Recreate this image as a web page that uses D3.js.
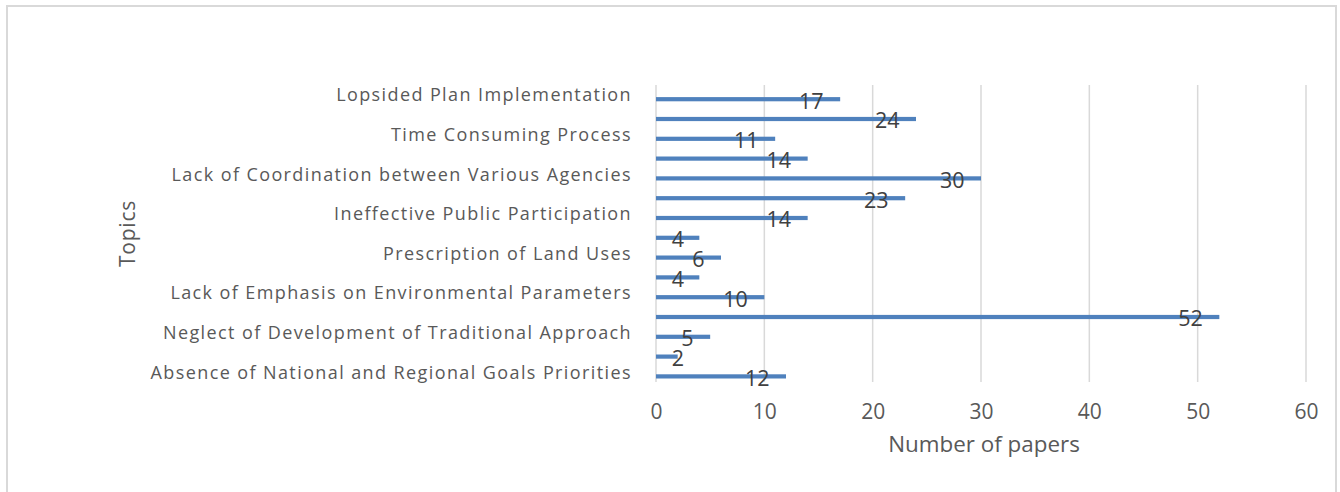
<!DOCTYPE html>
<html>
<head>
<meta charset="utf-8">
<script src="https://cdn.jsdelivr.net/npm/d3@7"></script>
<style>
  html, body { margin: 0; padding: 0; background: #fff; }
  svg { display: block; }
  text { font-family: "Open Sans", "DejaVu Sans", sans-serif; }
</style>
</head>
<body>
<svg id="chart" width="1340" height="492"></svg>
<script>
// Paper counts per topic row, listed top to bottom
const counts = [17, 24, 11, 14, 30, 23, 14, 4, 6, 4, 10, 52, 5, 2, 12];
// The axis names every second row, starting with the first
const tickLabels = [
  "Lopsided Plan Implementation",
  "Time Consuming Process",
  "Lack of Coordination between Various Agencies",
  "Ineffective Public Participation",
  "Prescription of Land Uses",
  "Lack of Emphasis on Environmental Parameters",
  "Neglect of Development of Traditional Approach",
  "Absence of National and Regional Goals Priorities"
];
const xTicks = [0, 10, 20, 30, 40, 50, 60];
const xTitle = "Number of papers";
const yTitle = "Topics";

const svg = d3.select("#chart");
const plot = { left: 656, right: 1306, top: 85, bottom: 382 };
const barColor = "#4F81BD";
const gridColor = "#d9d9d9";

// frame around the chart area
svg.append("rect")
  .attr("x", 7).attr("y", 6)
  .attr("width", 1329).attr("height", 500)
  .attr("fill", "none")
  .attr("stroke", gridColor)
  .attr("stroke-width", 2);

const x = d3.scaleLinear().domain([0, 60]).range([plot.left, plot.right]);
const y = d3.scaleBand().domain(d3.range(counts.length)).range([plot.top, plot.bottom]);

// vertical gridlines
svg.append("g").selectAll("line").data(xTicks).join("line")
  .attr("x1", d => x(d)).attr("x2", d => x(d))
  .attr("y1", plot.top).attr("y2", plot.bottom)
  .attr("stroke", gridColor).attr("stroke-width", 1.5);

// x axis tick labels
const xAxis = d3.axisBottom(x).tickValues(xTicks).tickSize(0).tickPadding(0);
const gx = svg.append("g").attr("transform", `translate(0,${plot.bottom})`).call(xAxis);
gx.select(".domain").remove();
gx.selectAll("text")
  .attr("dy", null)
  .attr("y", 37)
  .attr("fill", "#595959")
  .style("font-size", "21px")
  .style("font-family", "'Open Sans', sans-serif");

// category labels on every second row
const yAxis = d3.axisLeft(y)
  .tickValues(d3.range(0, counts.length, 2))
  .tickFormat(i => tickLabels[i / 2])
  .tickSize(0).tickPadding(0);
const gy = svg.append("g").attr("transform", `translate(632,0)`).call(yAxis);
gy.select(".domain").remove();
gy.selectAll("text")
  .attr("dy", null)
  .attr("y", 6.4)
  .attr("fill", "#595959")
  .style("font-size", "18px")
  .style("letter-spacing", "1.4px")
  .style("font-family", "'Open Sans', sans-serif");

// bars sit slightly below the row centre
const barH = 4.2;
const barShift = 4.3;
const barCenter = i => y(i) + y.bandwidth() / 2 + barShift;

svg.append("g").selectAll("rect").data(counts).join("rect")
  .attr("x", x(0))
  .attr("y", (d, i) => barCenter(i) - barH / 2)
  .attr("width", d => x(d) - x(0))
  .attr("height", barH)
  .attr("fill", barColor);

// value labels just inside the bar end
const labels = svg.append("g").selectAll("text").data(counts).join("text")
  .text(d => d)
  .attr("y", (d, i) => barCenter(i) + 9.3)
  .attr("fill", "#404040")
  .style("font-size", "21.5px");
labels.each(function (d) {
  const w = this.getComputedTextLength();
  const left = Math.max(x(d) - 16.5 - w, x(0) + 15.7);
  d3.select(this).attr("x", left);
});

// axis titles
svg.append("text")
  .attr("x", (plot.left + plot.right) / 2 + 3)
  .attr("y", 451.5)
  .attr("text-anchor", "middle")
  .attr("fill", "#595959")
  .style("font-size", "22.4px")
  .text(xTitle);

svg.append("text")
  .attr("transform", `translate(135,${(plot.top + plot.bottom) / 2}) rotate(-90)`)
  .attr("text-anchor", "middle")
  .attr("fill", "#595959")
  .style("font-size", "21px")
  .style("letter-spacing", "0.8px")
  .text(yTitle);
</script>
</body>
</html>
